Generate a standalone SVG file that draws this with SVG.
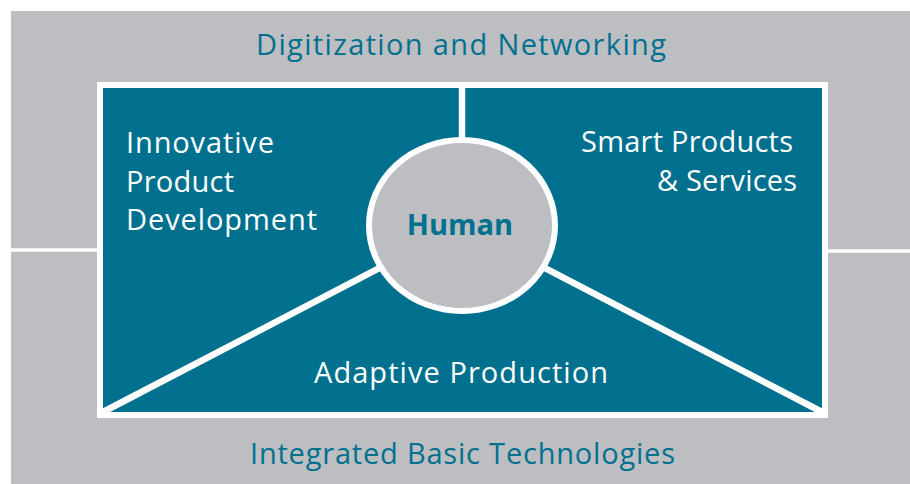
<svg xmlns="http://www.w3.org/2000/svg" width="910" height="484" viewBox="0 0 910 484">
<style>
.lbl{font-family:"Open Sans","Noto Sans","Liberation Sans",sans-serif;font-size:29px}
.outer{fill:#00708f}
.inner{fill:#ffffff}
.sep{stroke:#ffffff;fill:none}
</style>
<rect x="0" y="0" width="910" height="484" fill="#ffffff"/>
<g id="digitization-networking">
<rect x="11" y="11" width="899" height="473" fill="#bdbec2"/>
<text class="lbl outer" x="461" y="55" text-anchor="middle" textLength="410" lengthAdjust="spacing">Digitization and Networking</text>
</g>
<g id="integrated-basic-technologies">
<text class="lbl outer" x="462.5" y="464" text-anchor="middle" textLength="425" lengthAdjust="spacing">Integrated Basic Technologies</text>
</g>
<g id="frame">
<rect x="97" y="82" width="731" height="336" fill="#ffffff"/>
<rect x="103" y="88" width="719" height="324" fill="#00708f"/>
</g>
<g id="connectors">
<line class="sep" x1="11" y1="250" x2="97" y2="250" stroke-width="3.5"/>
<line class="sep" x1="828" y1="251" x2="910" y2="251" stroke-width="3.5"/>
<line class="sep" x1="462" y1="88" x2="462" y2="225" stroke-width="6.5"/>
<line class="sep" x1="103" y1="412" x2="462" y2="225" stroke-width="6.5"/>
<line class="sep" x1="822" y1="412" x2="462" y2="225" stroke-width="6.5"/>
</g>
<g id="innovative-product-development">
<text class="lbl inner" x="126" y="153" textLength="148" lengthAdjust="spacing">Innovative</text>
<text class="lbl inner" x="126" y="192" textLength="108" lengthAdjust="spacing">Product</text>
<text class="lbl inner" x="126" y="230" textLength="191" lengthAdjust="spacing">Development</text>
</g>
<g id="smart-products-services">
<text class="lbl inner" x="581" y="152" textLength="212" lengthAdjust="spacing">Smart Products</text>
<text class="lbl inner" x="657" y="191" textLength="140" lengthAdjust="spacing">&amp; Services</text>
</g>
<g id="adaptive-production">
<text class="lbl inner" x="461" y="383" text-anchor="middle" textLength="294" lengthAdjust="spacing">Adaptive Production</text>
</g>
<g id="human">
<ellipse cx="462" cy="225.5" rx="93" ry="85.5" fill="#bdbec2" stroke="#ffffff" stroke-width="6"/>
<text class="lbl outer" x="460" y="235" text-anchor="middle" font-weight="bold" font-size="28px">Human</text>
</g>
</svg>
